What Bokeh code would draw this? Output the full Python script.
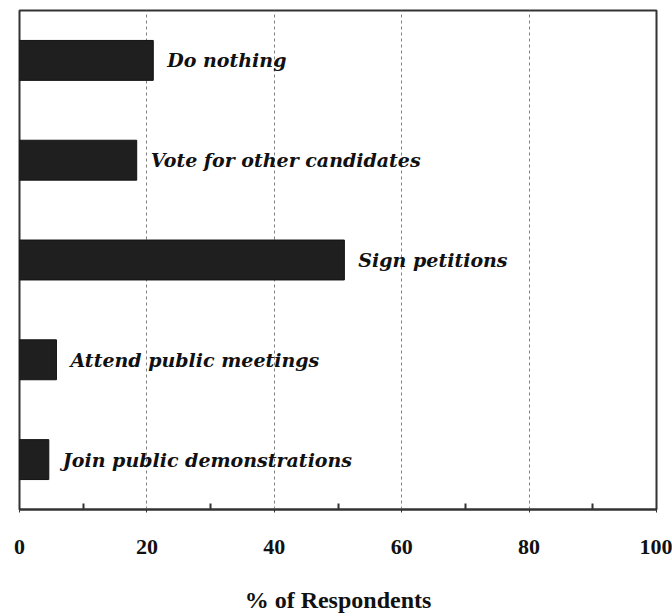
from bokeh.plotting import figure
from bokeh.models import FixedTicker, FactorRange, Range1d, ColumnDataSource
from bokeh.core.properties import value
from bokeh.embed import file_html
from bokeh.resources import INLINE

categories = ["Do nothing", "Vote for other candidates", "Sign petitions",
              "Attend public  meetings", "Join public demonstrations"]
percent = [21, 18.4, 51, 5.8, 4.6]
x_ticks = [0, 20, 40, 60, 80, 100]
x_minor_ticks = [10, 30, 50, 70, 90]
grid_ticks = [20, 40, 60, 80]
x_label = "% of Respondents"

source = ColumnDataSource(dict(cat=categories, val=percent))

p = figure(width=672, height=615,
           y_range=FactorRange(factors=list(reversed(categories))),
           x_range=Range1d(0, 100),
           output_backend="svg", toolbar_location=None,
           min_border_left=19, min_border_right=16, min_border_top=10,
           min_border_bottom=105)

p.hbar(y="cat", left=0, right="val", height=0.4, source=source,
       fill_color="#1f1f1f", line_color="#111111", line_width=1)
p.text(x="val", y="cat", text="cat", source=source, x_offset=14,
       text_baseline="middle", text_align="left",
       text_font=value("DejaVu Serif"), text_font_style="bold italic",
       text_font_size="19px", text_color="#111111")

p.yaxis.visible = False
p.ygrid.visible = False
p.xgrid.ticker = FixedTicker(ticks=grid_ticks)
p.xgrid.grid_line_color = "#808080"
p.xgrid.grid_line_dash = "3 3"
p.xgrid.grid_line_width = 1

p.outline_line_color = "#333333"
p.outline_line_width = 2
p.outline_line_alpha = 1

ax = p.xaxis[0]
ax.ticker = FixedTicker(ticks=x_ticks, minor_ticks=x_minor_ticks)
ax.axis_line_color = "#333333"
ax.axis_line_width = 2
ax.major_tick_in = 0
ax.major_tick_out = 3
ax.major_tick_line_color = "#333333"
ax.minor_tick_in = 6
ax.minor_tick_out = 0
ax.minor_tick_line_color = "#333333"
ax.minor_tick_line_width = 2
ax.major_label_standoff = 27
ax.major_label_text_font = "Liberation Serif"
ax.major_label_text_font_style = "bold"
ax.major_label_text_font_size = "22px"
ax.major_label_text_color = "#111111"
ax.axis_label = x_label
ax.axis_label_text_font = "Liberation Serif"
ax.axis_label_text_font_style = "bold"
ax.axis_label_text_font_size = "24px"
ax.axis_label_text_color = "#111111"
ax.axis_label_standoff = 30

p.background_fill_color = "white"
p.border_fill_color = "white"

open("out.html", "w").write(file_html(p, INLINE))
